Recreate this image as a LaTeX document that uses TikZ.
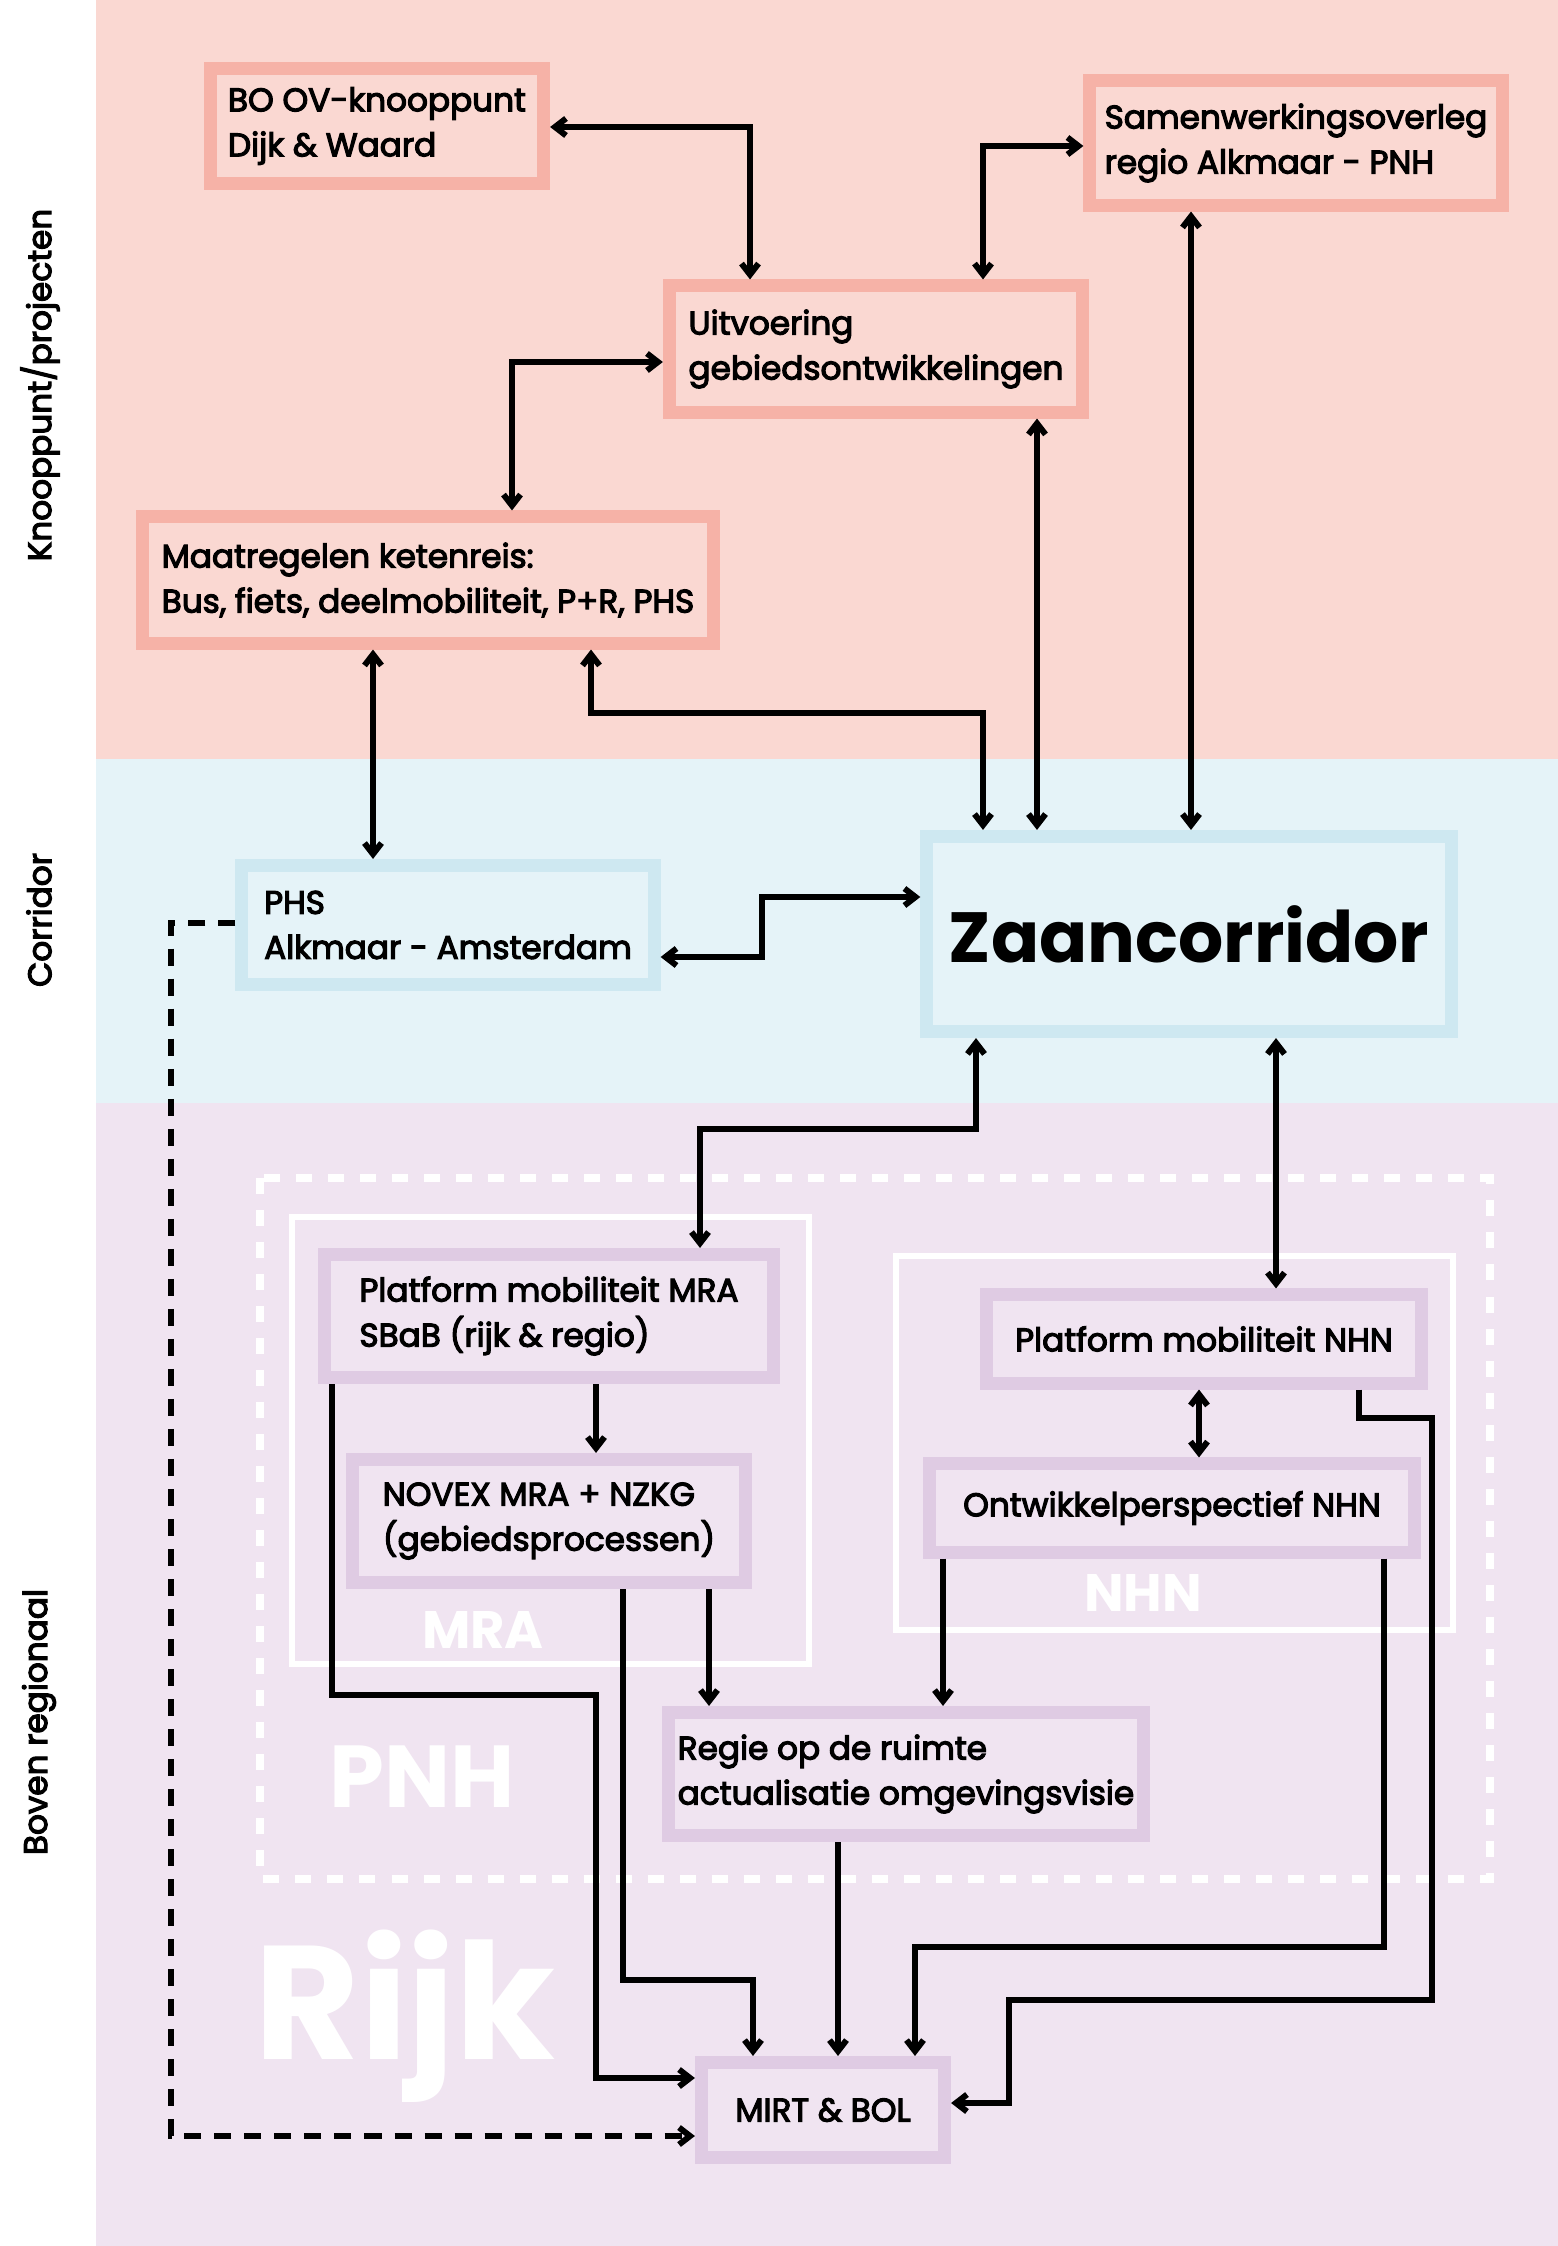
\documentclass[tikz,border=0pt]{standalone}
\usepackage{xcolor}
\usepackage{fontspec}
\setmainfont{Poppins}
\newfontfamily\boxfont{Poppins}[FakeBold=3.5]
\usepackage{tikz}
\usetikzlibrary{arrows.meta,positioning,calc}

\definecolor{knoopband}{HTML}{FAD8D2}
\definecolor{knoopedge}{HTML}{F6B2A7}
\definecolor{corrband}{HTML}{E5F3F8}
\definecolor{corredge}{HTML}{CEE8F1}
\definecolor{bovenband}{HTML}{F0E4F1}
\definecolor{bovenedge}{HTML}{DFCBE3}

\tikzset{
  knoopbox/.style={rectangle, draw=knoopedge, fill=knoopband, line width=0.13cm, align=left,
    font=\boxfont\fontsize{9.3}{12.8}\selectfont, inner sep=0pt},
  corrbox/.style={rectangle, draw=corredge, fill=corrband, line width=0.13cm, align=left,
    font=\boxfont\fontsize{9.3}{12.8}\selectfont, inner sep=0pt},
  bovenbox/.style={rectangle, draw=bovenedge, fill=bovenband, line width=0.13cm, align=left,
    font=\boxfont\fontsize{9.3}{12.8}\selectfont, inner sep=0pt},
  linkarrow/.style={-{Straight Barb[length=1.1mm,width=1.7mm]}, draw=black, line width=1.7pt},
  bilinkarrow/.style={{Straight Barb[length=1.1mm,width=1.7mm]}-{Straight Barb[length=1.1mm,width=1.7mm]},
    draw=black, line width=1.7pt},
  dashlinkarrow/.style={linkarrow, dash pattern=on 0.17cm off 0.13cm},
}

\begin{document}
\begin{tikzpicture}[x=0.01cm, y=-0.01cm,
    sidelabel/.style={rotate=90, font=\boxfont\fontsize{9.3}{11}\selectfont, inner sep=0pt},
    regionlabel/.style={text=white, font=\bfseries, inner sep=0pt, anchor=base},
    regionframe/.style={draw=white, line width=0.066cm}]

  \useasboundingbox (0,0) rectangle (1558,2246);

  % Bands
  \fill[white] (0,0) rectangle (1558,2246);
  \fill[knoopband] (96,0) rectangle (1558,759);
  \fill[corrband] (96,759) rectangle (1558,1103);
  \fill[bovenband] (96,1103) rectangle (1558,2246);

  % Band labels
  \node[sidelabel] (lknoop) at (40,385) {Knooppunt/projecten};
  \node[sidelabel] (lcorr) at (39,920) {Corridor};
  \node[sidelabel] (lboven) at (39,1722) {Boven regionaal};

  % Region frames and names
  \draw[regionframe, line width=0.075cm, dash pattern=on 0.16cm off 0.16cm] (260,1178) rectangle (1490,1879);
  \draw[regionframe] (292,1217) rectangle (809,1664);
  \draw[regionframe] (896,1256) rectangle (1453,1630);
  \node[regionlabel, font=\bfseries\fontsize{15}{15}\selectfont] (lmra) at (483,1648) {MRA};
  \node[regionlabel, font=\bfseries\fontsize{15}{15}\selectfont] (lnhn) at (1143,1611) {NHN};
  \node[regionlabel, font=\bfseries\fontsize{25}{25}\selectfont] (lpnh) at (422,1807) {PNH};
  \node[regionlabel, font=\bfseries\fontsize{46}{46}\selectfont] (lrijk) at (405,2059) {Rijk};

  % Knooppunt/projecten
  \node[knoopbox, minimum width=3.33cm, minimum height=1.14cm] (bo) at (377,126) {BO OV-knooppunt\\Dijk \& Waard};
  \node[knoopbox, minimum width=4.12cm, minimum height=1.24cm] (sam) at (1296,143) {Samenwerkingsoverleg\\regio Alkmaar - PNH};
  \node[knoopbox, minimum width=4.13cm, minimum height=1.26cm] (uit) at (876,349) {Uitvoering\\gebiedsontwikkelingen};
  \node[knoopbox, minimum width=5.70cm, minimum height=1.26cm] (maat) at (428,580) {Maatregelen ketenreis:\\Bus, fiets, deelmobiliteit, P+R, PHS};

  % Corridor
  \node[corrbox, minimum width=4.12cm, minimum height=1.19cm] (phs) at (448,925) {PHS\\Alkmaar - Amsterdam};
  \node[corrbox, minimum width=5.24cm, minimum height=1.95cm, font=\bfseries\fontsize{20.2}{24}\selectfont] (zaan) at (1189,934) {Zaancorridor};

  % Boven regionaal
  \node[bovenbox, minimum width=4.48cm, minimum height=1.23cm] (pmra) at (549,1316) {Platform mobiliteit MRA\\SBaB (rijk \& regio)};
  \node[bovenbox, minimum width=3.93cm, minimum height=1.23cm] (novex) at (549,1521) {NOVEX MRA + NZKG\\(gebiedsprocessen)};
  \node[bovenbox, minimum width=4.34cm, minimum height=0.88cm] (pnhn) at (1204,1339) {Platform mobiliteit NHN};
  \node[bovenbox, minimum width=4.85cm, minimum height=0.88cm] (ontw) at (1172,1508) {Ontwikkelperspectief NHN};
  \node[bovenbox, minimum width=4.74cm, minimum height=1.23cm] (regie) at (906,1774) {Regie op de ruimte\\actualisatie omgevingsvisie};
  \node[bovenbox, minimum width=2.43cm, minimum height=0.95cm] (mirt) at (823,2110) {MIRT \& BOL};

  % Arrows: knooppunt level
  \draw[bilinkarrow] (bo.east |- 0,127) -| (750,0 |- uit.north);
  \draw[bilinkarrow] (uit.west |- 0,362) -| (512,0 |- maat.north);
  \draw[bilinkarrow] (983,0 |- uit.north) |- (sam.west |- 0,146);
  \draw[bilinkarrow] (373,0 |- maat.south) -- (373,0 |- phs.north);

  % Arrows: to Zaancorridor
  \draw[bilinkarrow] (1037,0 |- uit.south) -- (1037,0 |- zaan.north);
  \draw[bilinkarrow] (1191,0 |- sam.south) -- (1191,0 |- zaan.north);
  \draw[bilinkarrow] (591,0 |- maat.south) |- (983,713) -- (983,0 |- zaan.north);
  \draw[bilinkarrow] (zaan.west |- 0,897) -| (762,957) -- (phs.east |- 0,957);
  \draw[bilinkarrow] (976,0 |- zaan.south) |- (700,1129) -- (700,0 |- pmra.north);
  \draw[bilinkarrow] (1276,0 |- zaan.south) -- (1276,0 |- pnhn.north);

  % Arrows: MRA side
  \draw[linkarrow] (596,0 |- pmra.south) -- (596,0 |- novex.north);
  \draw[linkarrow] (332,0 |- pmra.south) |- (596,1695) |- (mirt.west |- 0,2078);
  \draw[linkarrow] (623,0 |- novex.south) |- (753,1980) -- (753,0 |- mirt.north);
  \draw[linkarrow] (709,0 |- novex.south) -- (709,0 |- regie.north);

  % Arrows: NHN side
  \draw[bilinkarrow] (1199,0 |- pnhn.south) -- (1199,0 |- ontw.north);
  \draw[linkarrow] (943,0 |- ontw.south) -- (943,0 |- regie.north);
  \draw[linkarrow] (1384,0 |- ontw.south) |- (915,1947) -- (915,0 |- mirt.north);
  \draw[linkarrow] (1359,0 |- pnhn.south) |- (1432,1418) |- (1009,2000) |- (mirt.east |- 0,2103);
  \draw[linkarrow] (838,0 |- regie.south) -- (838,0 |- mirt.north);

  % PHS to MIRT
  \draw[dashlinkarrow] (phs.west |- 0,923) -| (171,2136) -- (mirt.west |- 0,2136);

\end{tikzpicture}
\end{document}
